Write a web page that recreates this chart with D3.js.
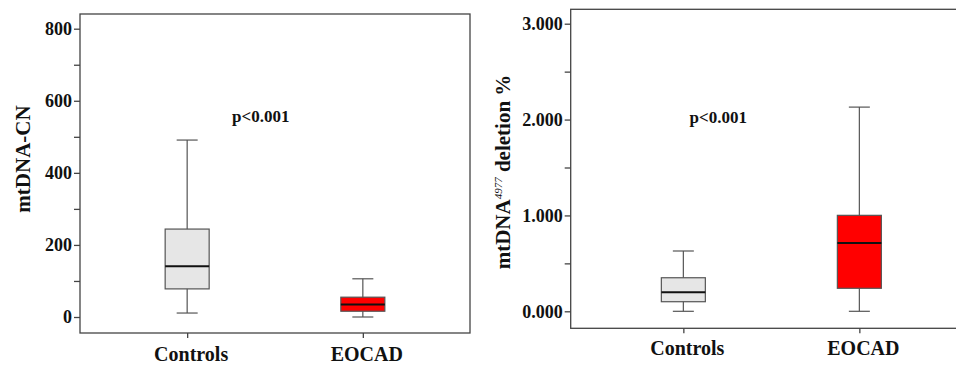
<!DOCTYPE html>
<html>
<head>
<meta charset="utf-8">
<script src="https://cdn.jsdelivr.net/npm/d3@7"></script>
<style>
  body { margin: 0; background: #fff; }
  svg text { font-family: "Liberation Serif", "Times New Roman", serif; font-weight: bold; fill: #111; }
</style>
</head>
<body>
<svg id="chart" width="956" height="365"></svg>
<script>
// groups on the x axis
var groups = ["Controls", "EOCAD"];
var groupFill = ["#e6e6e6", "#ff0000"];

// box stats per group: [whisker low, q1, median, q3, whisker high]
var cnStats = [[11, 78, 141, 244, 491], [0, 16, 35, 55, 106]];
var delStats = [[0.0, 0.10, 0.198, 0.35, 0.629], [0.0, 0.24, 0.712, 1.001, 2.13]];

// y ticks (labelled / unlabelled)
var cnTicks = [0, 100, 200, 300, 400, 500, 600, 700, 800];
var cnLabels = [0, 200, 400, 600, 800];
var delTicks = [0, 0.5, 1, 1.5, 2, 2.5, 3];
var delLabels = [0, 1, 2, 3];

var pText = "p<0.001";

var svg = d3.select("#chart");

//draws one box plot panel
function drawPanel(opt) {
  var g = svg.append("g");
  var y = d3.scaleLinear().domain(opt.yDomain).range(opt.yRange);
  var x = d3.scalePoint().domain(groups).range(opt.xRange).padding(opt.pad);

  // frame
  g.append("rect")
    .attr("x", opt.frame[0]).attr("y", opt.frame[1])
    .attr("width", opt.frame[2] - opt.frame[0]).attr("height", opt.frame[3] - opt.frame[1])
    .attr("fill", "none").attr("stroke", "#444").attr("stroke-width", 1.3);

  // y axis
  var yAxis = g.append("g")
    .attr("transform", "translate(" + opt.frame[0] + ",0)")
    .call(d3.axisLeft(y).tickValues(opt.ticks).tickSize(6).tickPadding(2)
      .tickFormat(function(d) { return opt.labels.indexOf(d) >= 0 ? opt.fmt(d) : ""; }));
  yAxis.select(".domain").remove();
  yAxis.selectAll("line").attr("stroke", "#444").attr("stroke-width", 1.3);
  yAxis.selectAll("text").style("font-size", "18px").attr("fill", "#111");

  // x axis ticks + labels
  var xAxis = g.append("g")
    .attr("transform", "translate(0," + opt.frame[3] + ")")
    .call(d3.axisBottom(x).tickSize(5).tickFormat(""));
  xAxis.select(".domain").remove();
  xAxis.selectAll("line").attr("stroke", "#444").attr("stroke-width", 1.3);

  g.selectAll(".cat").data(groups).enter().append("text")
    .attr("x", function(d) { return x(d) + 4; })
    .attr("y", opt.catY)
    .attr("text-anchor", "middle")
    .style("font-size", "20px")
    .text(function(d) { return d; });

  // boxes
  var bw = 44, cw = 21;
  var box = g.selectAll(".box").data(opt.stats).enter().append("g");
  box.append("line")
    .attr("x1", function(d, i) { return x(groups[i]); })
    .attr("x2", function(d, i) { return x(groups[i]); })
    .attr("y1", function(d) { return y(d[0]); })
    .attr("y2", function(d) { return y(d[4]); })
    .attr("stroke", "#555").attr("stroke-width", 1.2);
  [0, 4].forEach(function(k) {
    box.append("line")
      .attr("x1", function(d, i) { return x(groups[i]) - cw / 2; })
      .attr("x2", function(d, i) { return x(groups[i]) + cw / 2; })
      .attr("y1", function(d) { return y(d[k]); })
      .attr("y2", function(d) { return y(d[k]); })
      .attr("stroke", "#555").attr("stroke-width", 1.2);
  });
  box.append("rect")
    .attr("x", function(d, i) { return x(groups[i]) - bw / 2; })
    .attr("y", function(d) { return y(d[3]); })
    .attr("width", bw)
    .attr("height", function(d) { return y(d[1]) - y(d[3]); })
    .attr("fill", function(d, i) { return groupFill[i]; })
    .attr("stroke", "#555").attr("stroke-width", 1.2);
  box.append("line")
    .attr("x1", function(d, i) { return x(groups[i]) - bw / 2; })
    .attr("x2", function(d, i) { return x(groups[i]) + bw / 2; })
    .attr("y1", function(d) { return y(d[2]); })
    .attr("y2", function(d) { return y(d[2]); })
    .attr("stroke", "#111").attr("stroke-width", 2);

  // p value
  g.append("text")
    .attr("x", opt.pPos[0]).attr("y", opt.pPos[1])
    .style("font-size", "17px")
    .text(pText);

  // y title
  var t = g.append("text")
    .attr("transform", "translate(" + opt.titlePos[0] + "," + opt.titlePos[1] + ") rotate(-90)")
    .attr("text-anchor", "middle")
    .style("font-size", "21px");
  opt.title(t);
}

drawPanel({
  frame: [80, 14, 470, 333],
  yDomain: [0, 800], yRange: [317, 28.7],
  xRange: [80, 470], pad: 0.61,
  ticks: cnTicks, labels: cnLabels, fmt: d3.format("d"),
  stats: cnStats,
  catY: 361,
  pPos: [232, 122],
  titlePos: [30, 159],
  title: function(t) { t.text("mtDNA-CN"); }
});

drawPanel({
  frame: [570.7, 9.3, 960, 328.3],
  yDomain: [0, 3], yRange: [311.3, 23.7],
  xRange: [570.7, 972], pad: 0.64,
  ticks: delTicks, labels: delLabels, fmt: d3.format(".3f"),
  stats: delStats,
  catY: 355,
  pPos: [689.5, 123],
  titlePos: [510, 172],
  title: function(t) {
    t.append("tspan").text("mtDNA");
    t.append("tspan").attr("dy", -8).style("font-size", "11px").style("font-style", "italic").style("font-weight", "normal").text("4977");
    t.append("tspan").attr("dy", 8).text(" deletion %");
  }
});
</script>
</body>
</html>
